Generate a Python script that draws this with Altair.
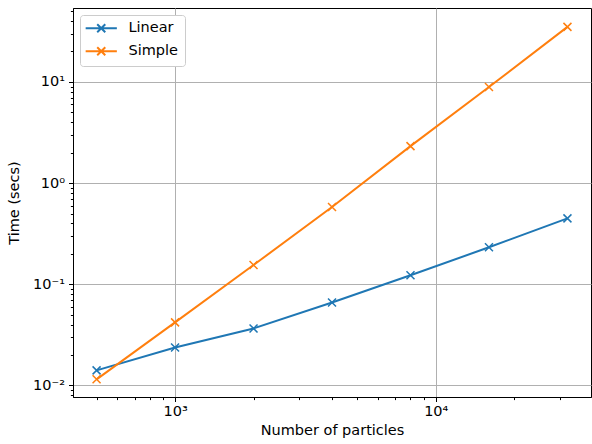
import altair as alt
import pandas as pd

particles = [500, 1000, 2000, 4000, 8000, 16000, 32000]
linear_secs = [0.0141, 0.0237, 0.0366, 0.066, 0.123, 0.232, 0.448]
simple_secs = [0.0115, 0.042, 0.155, 0.58, 2.32, 8.9, 35.0]
series_names = ["Linear", "Simple"]
series_colors = ["#1f77b4", "#ff7f0e"]

x_major = [1000, 10000]
x_minor = [400, 500, 600, 700, 800, 900, 2000, 3000, 4000, 5000, 6000, 7000, 8000, 9000, 20000, 30000]
y_major = [0.01, 0.1, 1, 10]
y_minor = [0.008, 0.009, 0.02, 0.03, 0.04, 0.05, 0.06, 0.07, 0.08, 0.09,
           0.2, 0.3, 0.4, 0.5, 0.6, 0.7, 0.8, 0.9, 2, 3, 4, 5, 6, 7, 8, 9, 20, 30, 40, 50]

rows = []
for n, v in zip(particles, linear_secs):
    rows.append({"n": n, "t": v, "series": "Linear"})
for n, v in zip(particles, simple_secs):
    rows.append({"n": n, "t": v, "series": "Simple"})
df = pd.DataFrame(rows)

FONT = "DejaVu Sans"
FS = 14.5
x_test = "indexof([1000,10000], datum.value) >= 0"
y_test = "indexof([0.01,0.1,1,10], datum.value) >= 0"

x_axis = alt.Axis(
    values=x_major + x_minor,
    labelExpr="datum.value == 1000 ? '10³' : (datum.value == 10000 ? '10⁴' : '')",
    tickSize={"condition": {"test": x_test, "value": 4.5}, "value": 2.6},
    gridOpacity={"condition": {"test": x_test, "value": 1}, "value": 0},
    gridColor="#b0b0b0", gridWidth=1,
    tickColor="black", domainColor="black", tickWidth=1,
    labelFont=FONT, labelFontSize=FS, labelColor="black", labelPadding=3,
    titleFont=FONT, titleFontSize=FS, titleFontWeight="normal", titleColor="black",
    titlePadding=5, labelFlush=False, labelOverlap=False,
)
y_axis = alt.Axis(
    values=y_major + y_minor,
    labelExpr="datum.value == 0.01 ? '10⁻²' : (datum.value == 0.1 ? '10⁻¹' : (datum.value == 1 ? '10⁰' : (datum.value == 10 ? '10¹' : '')))",
    tickSize={"condition": {"test": y_test, "value": 4.5}, "value": 2.6},
    gridOpacity={"condition": {"test": y_test, "value": 1}, "value": 0},
    gridColor="#b0b0b0", gridWidth=1,
    tickColor="black", domainColor="black", tickWidth=1,
    labelFont=FONT, labelFontSize=FS, labelColor="black", labelPadding=4,
    titleFont=FONT, titleFontSize=FS, titleFontWeight="normal", titleColor="black",
    titlePadding=11, labelFlush=False, labelOverlap=False,
)

xs = alt.Scale(type="log", domain=[406, 39400], nice=False, zero=False)
ys = alt.Scale(type="log", domain=[0.00769, 53.8], nice=False, zero=False)
cs = alt.Scale(domain=series_names, range=series_colors)

legend = alt.Legend(
    title=None, orient="top-left", offset=7,
    symbolType="M-2.6,0L2.6,0M-0.67,-0.67L0.67,0.67M-0.67,0.67L0.67,-0.67",
    symbolSize=144, symbolStrokeWidth=2, symbolOffset=8,
    labelFont=FONT, labelFontSize=FS, labelColor="black", labelOffset=20,
    fillColor="white", strokeColor="#cccccc", cornerRadius=3, padding=6,
    rowPadding=6,
)

base = alt.Chart(df)
lines = base.mark_line(strokeWidth=2, clip=True).encode(
    x=alt.X("n:Q", scale=xs, axis=x_axis, title="Number of particles"),
    y=alt.Y("t:Q", scale=ys, axis=y_axis, title="Time (secs)"),
    color=alt.Color("series:N", scale=cs, legend=legend),
)
points = base.mark_point(
    shape="M-1,-1L1,1M-1,1L1,-1", filled=False, strokeWidth=1.5, size=64, opacity=1
).encode(
    x=alt.X("n:Q", scale=xs),
    y=alt.Y("t:Q", scale=ys),
    color=alt.Color("series:N", scale=cs, legend=None),
)

chart = alt.layer(lines, points).properties(
    width=518, height=389,
    autosize=alt.AutoSizeParams(type="none"),
    padding={"left": 73, "top": 8, "right": 1, "bottom": 47},
    background="white",
).configure_view(stroke="black", strokeWidth=1)

chart.save("out.html", embed_options={"renderer": "svg", "actions": False})
